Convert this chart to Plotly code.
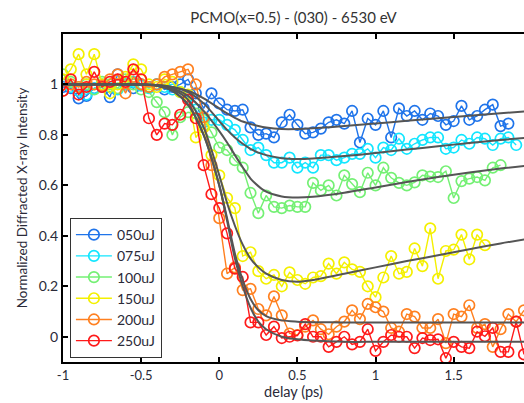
import plotly.graph_objects as go

# ---- data ----
delay = [-1.0, -0.95, -0.9, -0.85, -0.8, -0.75, -0.7, -0.65, -0.6, -0.55,
         -0.5, -0.45, -0.4, -0.35, -0.3, -0.25, -0.2, -0.15, -0.1, -0.05,
         0.0, 0.05, 0.1, 0.15, 0.2, 0.25, 0.3, 0.35, 0.4, 0.45,
         0.5, 0.55, 0.6, 0.65, 0.7, 0.75, 0.8, 0.85, 0.9, 0.95,
         1.0, 1.05, 1.1, 1.15, 1.2, 1.25, 1.3, 1.35, 1.4, 1.45,
         1.5, 1.55, 1.6, 1.65, 1.7, 1.75, 1.8, 1.85, 1.9, 1.95]

labels = ["050uJ", "075uJ", "100uJ", "150uJ", "200uJ", "250uJ"]
colors = ["#1f74ea", "#12e6ff", "#74f074", "#f4f000", "#ff8020", "#ff1a1a"]

i050 = [0.99, 0.985, 0.945, 0.955, 0.985, 0.99, 0.95, 1.04, 1.00, 0.985,
        1.00, 0.99, 1.00, 0.98, 0.99, 1.00, 1.02, 0.965, 0.905, 0.965,
        0.925, 0.90, 0.895, 0.90, 0.83, 0.80, 0.805, 0.79, 0.85, 0.88,
        0.84, 0.805, 0.81, 0.825, 0.85, 0.86, 0.845, 0.895, 0.77, 0.865,
        0.84, 0.895, 0.79, 0.905, 0.875, 0.895, 0.86, 0.885, 0.875, 0.84,
        0.855, 0.915, 0.86, 0.875, 0.90, 0.92, 0.835, 0.845]

i075 = [1.00, 0.99, 0.975, 0.96, 0.985, 1.00, 0.99, 0.98, 1.00, 1.01,
        0.995, 0.985, 1.00, 0.99, 0.98, 0.97, 0.95, 0.90, 0.85, 0.86,
        0.86, 0.84, 0.82, 0.78, 0.74, 0.75, 0.72, 0.69, 0.69, 0.71,
        0.67, 0.69, 0.67, 0.72, 0.72, 0.70, 0.71, 0.725, 0.725, 0.745,
        0.71, 0.75, 0.74, 0.785, 0.745, 0.765, 0.78, 0.79, 0.79, 0.745,
        0.75, 0.78, 0.765, 0.79, 0.785, 0.76, 0.785, 0.79, 0.76]

i100 = [1.04, 1.01, 0.99, 1.00, 0.98, 1.01, 1.00, 0.985, 1.02, 1.00,
        0.98, 0.97, 0.93, 0.89, 0.80, 0.87, 0.89, 0.885, 0.86, 0.81,
        0.75, 0.74, 0.70, 0.67, 0.57, 0.49, 0.56, 0.515, 0.51, 0.52,
        0.515, 0.515, 0.61, 0.58, 0.60, 0.56, 0.64, 0.605, 0.573, 0.65,
        0.60, 0.67, 0.63, 0.61, 0.60, 0.612, 0.64, 0.635, 0.633, 0.656,
        0.55, 0.617, 0.627, 0.633, 0.62, 0.67, 0.68]

i150 = [1.02, 1.06, 1.12, 1.04, 1.12, 1.00, 0.965, 1.00, 1.03, 1.08,
        1.06, 1.00, 0.99, 1.02, 1.01, 0.97, 0.96, 0.79, 0.83, 0.72,
        0.64, 0.55, 0.51, 0.32, 0.335, 0.26, 0.23, 0.245, 0.20, 0.255,
        0.225, 0.21, 0.235, 0.24, 0.29, 0.25, 0.295, 0.267, 0.257, 0.20,
        0.157, 0.235, 0.32, 0.25, 0.257, 0.35, 0.28, 0.43, 0.23, 0.34,
        0.345, 0.405, 0.307, 0.405, 0.363]

i200 = [0.975, 1.00, 0.99, 1.01, 1.00, 0.995, 1.02, 1.04, 0.965, 1.03,
        1.00, 0.99, 1.00, 1.03, 1.04, 1.05, 1.06, 1.00, 0.87, 0.68,
        0.47, 0.25, 0.275, 0.185, 0.19, 0.11, 0.085, 0.16, 0.085, 0.013,
        0.007, 0.04, 0.065, 0.03, 0.01, 0.04, 0.06, 0.105, 0.07, 0.13,
        0.117, 0.10, 0.035, 0.02, 0.09, 0.08, 0.035, 0.035, 0.07, -0.025,
        0.09, 0.08, 0.125, 0.035, 0.05, -0.04, 0.03, 0.09, 0.06, 0.105]

i250 = [0.975, 1.02, 0.96, 0.99, 1.05, 0.99, 1.01, 1.02, 1.01, 1.06,
        1.02, 0.866, 0.80, 0.845, 0.84, 0.88, 0.94, 0.866, 0.68, 0.565,
        0.51, 0.41, 0.27, 0.237, 0.057, 0.057, 0.007, 0.04, -0.005, 0.0,
        0.005, 0.05, 0.0, 0.0, -0.04, -0.02, 0.0, -0.03, -0.02, 0.03,
        -0.056, -0.02, 0.007, 0.0, 0.0, -0.045, -0.005, -0.013, -0.01, -0.085,
        -0.02, -0.04, -0.045, 0.02, 0.002, 0.035, -0.06, -0.06, 0.06, -0.07]

series = [i050, i075, i100, i150, i200, i250]

# fitted curves
fit_delay = [-1.0, -0.5, -0.4, -0.3, -0.2, -0.1, 0.0, 0.05, 0.1, 0.15, 0.2, 0.25,
             0.3, 0.4, 0.5, 0.6, 0.8, 1.0, 1.2, 1.4, 1.6, 1.8, 2.0]
fit050 = [1.0, 1.0, 0.998, 0.99, 0.975, 0.945, 0.905, 0.885, 0.868, 0.853, 0.843, 0.835,
          0.829, 0.823, 0.823, 0.826, 0.835, 0.845, 0.856, 0.866, 0.876, 0.886, 0.895]
fit075 = [1.0, 1.0, 0.998, 0.99, 0.97, 0.925, 0.855, 0.82, 0.79, 0.765, 0.745, 0.73,
          0.72, 0.708, 0.705, 0.707, 0.716, 0.728, 0.742, 0.755, 0.768, 0.78, 0.79]
fit100 = [1.0, 1.0, 0.997, 0.985, 0.955, 0.895, 0.815, 0.77, 0.72, 0.672, 0.627, 0.597,
          0.575, 0.556, 0.552, 0.555, 0.571, 0.592, 0.613, 0.633, 0.651, 0.667, 0.68]
fit150 = [1.0, 1.0, 0.995, 0.98, 0.94, 0.83, 0.64, 0.53, 0.44, 0.365, 0.31, 0.275,
          0.25, 0.225, 0.218, 0.225, 0.25, 0.275, 0.3, 0.323, 0.347, 0.37, 0.39]
fit200 = [1.0, 1.0, 0.995, 0.975, 0.92, 0.8, 0.6, 0.47, 0.33, 0.225, 0.15, 0.105,
          0.082, 0.065, 0.06, 0.058, 0.057, 0.057, 0.057, 0.057, 0.057, 0.057, 0.057]
fit250 = [1.0, 1.0, 0.995, 0.975, 0.92, 0.8, 0.6, 0.46, 0.31, 0.2, 0.115, 0.06,
          0.03, 0.0, -0.01, -0.015, -0.02, -0.02, -0.02, -0.02, -0.02, -0.02, -0.02]
fits = [fit050, fit075, fit100, fit150, fit200, fit250]

FONT = "Lato"
TXT = "#2a2a38"

fig = go.Figure()
for lab, col, vals in zip(labels, colors, series):
    fig.add_trace(go.Scatter(
        x=delay[:len(vals)], y=vals, mode="lines+markers", name=lab,
        line=dict(color=col, width=1.4),
        marker=dict(symbol="circle-open", size=10.5, color=col, line=dict(width=1.7, color=col)),
    ))
for fv in fits:
    fig.add_trace(go.Scatter(
        x=fit_delay, y=fv, mode="lines", showlegend=False, hoverinfo="skip",
        line=dict(color="#555555", width=2, shape="spline", smoothing=0.8),
    ))

fig.update_layout(
    width=524, height=403,
    margin=dict(l=63, r=0, t=34, b=41),
    paper_bgcolor="white", plot_bgcolor="white",
    font=dict(family=FONT, size=13.5, color=TXT),
    title=dict(text="PCMO(x=0.5) - (030) - 6530 eV", x=0.5, xref="paper", xanchor="center",
               y=1 - 18 / 403, yref="container", yanchor="middle",
               font=dict(family=FONT, size=15, color="#333333")),
    showlegend=True,
    legend=dict(x=0.015, y=0.012, xanchor="left", yanchor="bottom",
                bgcolor="white", bordercolor="#333333", borderwidth=1,
                itemwidth=36, tracegroupgap=0,
                font=dict(family=FONT, size=14, color=TXT)),
)
fig.update_xaxes(
    range=[-1.0, 1.95], tickvals=[-1, -0.5, 0, 0.5, 1, 1.5, 2],
    ticktext=["-1", "-0.5", "0", "0.5", "1", "1.5", "2"],
    tickfont=dict(size=13),
    showline=True, linecolor="black", linewidth=2, mirror="ticks",
    ticks="inside", ticklen=5, tickwidth=2, tickcolor="black",
    showgrid=False, zeroline=False,
    title=dict(text="delay (ps)", standoff=2, font=dict(family=FONT, size=14.5, color=TXT)),
)
fig.update_yaxes(
    range=[-0.1, 1.2], tickvals=[0, 0.2, 0.4, 0.6, 0.8, 1],
    ticktext=["0", "0.2", "0.4", "0.6", "0.8", "1"],
    tickfont=dict(size=14),
    showline=True, linecolor="black", linewidth=2, mirror=False,
    ticks="inside", ticklen=5, tickwidth=2, tickcolor="black",
    showgrid=False, zeroline=False,
    title=dict(text="Normalized Diffracted X-ray Intensity", standoff=8,
               font=dict(family=FONT, size=13.5, color=TXT)),
)

fig.write_html("out.html")
